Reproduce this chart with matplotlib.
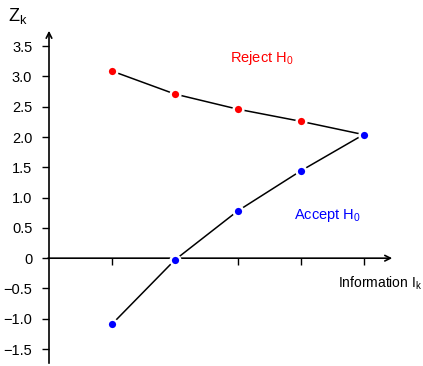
import matplotlib
matplotlib.use("Agg")
import matplotlib.pyplot as plt
from matplotlib.ticker import FuncFormatter

plt.rcParams["font.family"] = "Liberation Sans"
plt.rcParams["mathtext.fontset"] = "custom"
plt.rcParams["mathtext.rm"] = "Liberation Sans"
plt.rcParams["mathtext.it"] = "Liberation Sans:italic"

# data
stages = [1, 2, 3, 4, 5]
upper = [3.09, 2.71, 2.46, 2.26, 2.04]
lower = [-1.09, -0.03, 0.78, 1.44, 2.04]
yticks = [-1.5, -1.0, -0.5, 0, 0.5, 1.0, 1.5, 2.0, 2.5, 3.0, 3.5]

W, H = 423, 366
fig = plt.figure(figsize=(W / 100, H / 100), dpi=100)
# axes box: x data 0 at px 49, 5.5 at px 395; y 3.8 at px 28, -1.78 at px 366
x0, x1 = 49, 395
ytop, ybot = 28, 366
ax = fig.add_axes([x0 / W, 1 - ybot / H, (x1 - x0) / W, (ybot - ytop) / H])
ax.set_xlim(0, 5.5)
ax.set_ylim(-1.78, 3.8)

for s in ax.spines.values():
    s.set_visible(False)
ax.spines["bottom"].set_position(("data", 0))

# axes with arrows
ax.annotate("", xy=(5.5, 0), xytext=(-0.06, 0),
            arrowprops=dict(arrowstyle="->", lw=1.2, color="black"),
            annotation_clip=False)
ax.annotate("", xy=(0, 3.8), xytext=(0, -1.78),
            arrowprops=dict(arrowstyle="->", lw=1.2, color="black"),
            annotation_clip=False)

ax.plot(stages, upper, color="black", lw=1.1, zorder=2)
ax.plot(stages, lower, color="black", lw=1.1, zorder=2)
ax.plot(stages, upper, "o", color="red", ms=7, mec="white", mew=1.8, zorder=3)
ax.plot(stages, lower, "o", color="blue", ms=7, mec="white", mew=1.8, zorder=3)

ax.set_xticks(stages)
ax.tick_params(axis="x", length=5, width=1, labelbottom=False)
for t in ax.xaxis.get_major_ticks():
    t.tick1line.set_marker(3)  # tick pointing down
    t.tick1line.set_markersize(5)

def fmt(v, pos):
    if v == 0:
        return "0"
    return f"{v:.1f}".replace("-", "\u2212")

ax.set_yticks(yticks)
ax.yaxis.set_major_formatter(FuncFormatter(fmt))
ax.tick_params(axis="y", direction="out", length=5, width=1, labelsize=10.5, pad=7)

ax.text(3.38, 3.3, r"Reject H$_0$", color="red", fontsize=10.5, ha="center", va="center")
ax.text(4.43, 0.71, r"Accept H$_0$", color="blue", fontsize=10.5, ha="center", va="center")
ax.text(4.6, -0.41, r"Information I$_\mathrm{k}$", fontsize=10, ha="left", va="center")
fig.text(8 / W, 1 - 16 / H, r"Z$_\mathrm{k}$", fontsize=13, ha="left", va="center")

fig.savefig("out.png", dpi=100)
